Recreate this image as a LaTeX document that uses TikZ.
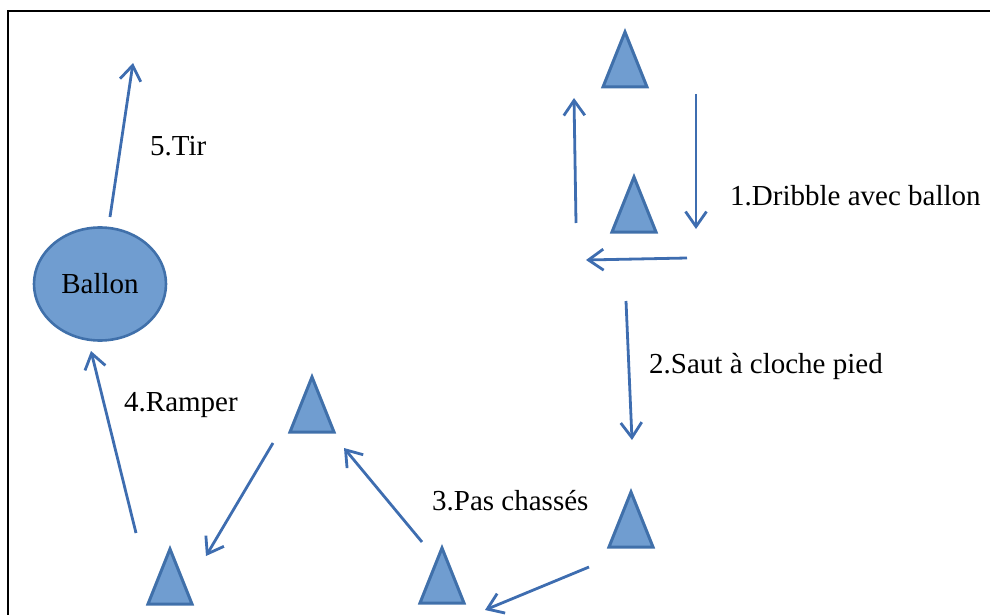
\documentclass[tikz,border=0pt]{standalone}
\usepackage{fontspec}
\setmainfont{Liberation Serif}
\newfontfamily\labelfont{Liberation Serif}
\usetikzlibrary{arrows.meta, shapes.geometric}
\definecolor{conefill}{RGB}{112,157,208}
\definecolor{coneline}{RGB}{64,112,170}
\definecolor{pathblue}{RGB}{62,109,176}

\begin{document}
\begin{tikzpicture}[x=1pt, y=-1pt,
		cone/.style={fill=conefill, draw=coneline, line width=3pt, line join=miter},
		move/.style={draw=pathblue, line width=2.8pt, -{Straight Barb[length=15pt,width=21pt,line width=2.8pt]}},
		lbl/.style={anchor=base west, inner sep=0pt, font=\labelfont\fontsize{29}{34}\selectfont}]
		\useasboundingbox (0,0) rectangle (990,615);
		\draw[line width=2.6pt] (8,630) -- (8,11) -- (1000,11);
		
		\coordinate (d1) at (576,223);
		\coordinate (d2) at (574,98);
		\coordinate (d3) at (696,94);
		\coordinate (d4) at (696,229);
		\coordinate (d5) at (687,258);
		\coordinate (d6) at (586,260);
		\coordinate (s1) at (626,301);
		\coordinate (s2) at (632,440);
		\coordinate (p1) at (589,567);
		\coordinate (p2) at (485,610);
		\coordinate (p3) at (422,542);
		\coordinate (p4) at (344,448);
		\coordinate (r1) at (273,443);
		\coordinate (r2) at (206,556);
		\coordinate (r3) at (136,533);
		\coordinate (r4) at (91,351);
		\coordinate (t1) at (110,217);
		\coordinate (t2) at (133,63);
		
		\foreach \x/\y in {
			625/87,
			634/232,
			631/547,
			442/603,
			312/432,
			170/604
		}{
			\draw[cone] (\x-22,\y) -- (\x,\y-55) -- (\x+22,\y) -- cycle;
		}
		
		\node[ellipse, fill=conefill, draw=coneline, line width=2.6pt,
			minimum width=132pt, minimum height=113pt, inner sep=0pt,
			font=\labelfont\fontsize{29}{34}\selectfont] (ballon) at (100,284) {Ballon};
		
		\foreach \a/\b in {d1/d2, d3/d4, d5/d6, s1/s2, p1/p2, p3/p4, r1/r2, r3/r4, t1/t2}
			\draw[move] (\a) -- (\b);
		
		\node[lbl] (tir) at (150,155) {5.Tir};
		\node[lbl] (dribble) at (730,205) {1.Dribble avec ballon};
		\node[lbl] (saut) at (649,373) {2.Saut à cloche pied};
		\node[lbl] (pas) at (432,510) {3.Pas chassés};
		\node[lbl] (ramper) at (124,411) {4.Ramper};
	\end{tikzpicture}
\end{document}
